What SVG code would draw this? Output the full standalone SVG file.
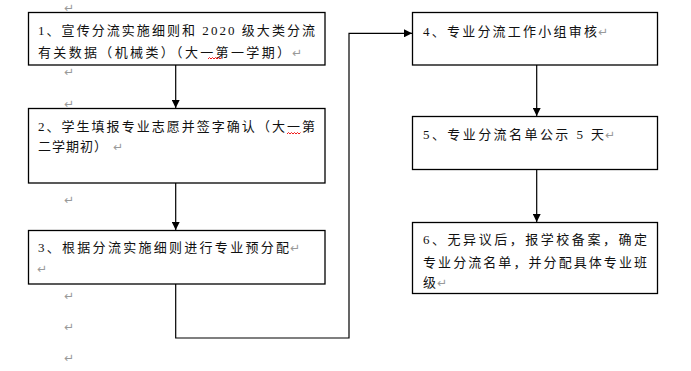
<svg xmlns="http://www.w3.org/2000/svg" width="691" height="371" viewBox="0 0 691 371">
<style>
.box{fill:#fff;stroke:#000;stroke-width:1.3}
.t{font-family:"Liberation Serif","Noto Sans CJK SC",serif;font-size:13px;fill:#111}
.rm{font-family:"DejaVu Sans",sans-serif;font-size:12px;fill:#999}
.con{fill:none;stroke:#000;stroke-width:1.2}
.wavy{fill:none;stroke:#e00;stroke-width:0.9}
</style>
<defs>
<marker id="ah" markerWidth="8" markerHeight="8" refX="8" refY="4" orient="auto" markerUnits="userSpaceOnUse">
<path d="M0,0 L8,4 L0,8 Z" fill="#000"/>
</marker>
</defs>
<rect width="691" height="371" fill="#fff"/>
<g id="marks">
<text class="rm" x="64" y="12">↵</text>
<text class="rm" x="64" y="76">↵</text>
<text class="rm" x="64" y="108">↵</text>
<text class="rm" x="64" y="204">↵</text>
<text class="rm" x="64" y="300">↵</text>
<text class="rm" x="64" y="331">↵</text>
<text class="rm" x="64" y="362">↵</text>
</g>
<g id="connectors">
<line class="con" x1="175.7" y1="65" x2="175.7" y2="108" marker-end="url(#ah)"/>
<line class="con" x1="175.7" y1="183" x2="175.7" y2="230" marker-end="url(#ah)"/>
<polyline class="con" points="175.7,284 175.7,338 349,338 349,33.3 412,33.3" marker-end="url(#ah)"/>
<line class="con" x1="536.7" y1="65" x2="536.7" y2="116" marker-end="url(#ah)"/>
<line class="con" x1="536.7" y1="169" x2="536.7" y2="222" marker-end="url(#ah)"/>
</g>
<g id="node1">
<rect class="box" x="28.5" y="12.5" width="296.5" height="52.5"/>
<text class="t" x="38" y="35" textLength="277" lengthAdjust="spacing">1、宣传分流实施细则和 2020 级大类分流</text>
<text class="t" x="38" y="57" textLength="252" lengthAdjust="spacing">有关数据（机械类）（大一第一学期）</text>
<text class="rm" x="292" y="57">↵</text>
<path class="wavy" d="M208,59 l1.5,-1.5 l1.5,1.5 l1.5,-1.5 l1.5,1.5 l1.5,-1.5 l1.5,1.5 l1.5,-1.5 l1.5,1.5 l1.5,-1.5"/>
</g>
<g id="node2">
<rect class="box" x="28.5" y="108.5" width="296.5" height="74.5"/>
<text class="t" x="38" y="131" textLength="277" lengthAdjust="spacing">2、学生填报专业志愿并签字确认（大一第</text>
<text class="t" x="38" y="151" textLength="69" lengthAdjust="spacing">二学期初）</text>
<text class="rm" x="113" y="151">↵</text>
<path class="wavy" d="M287,134 l1.5,-1.5 l1.5,1.5 l1.5,-1.5 l1.5,1.5 l1.5,-1.5 l1.5,1.5 l1.5,-1.5 l1.5,1.5 l1.5,-1.5"/>
</g>
<g id="node3">
<rect class="box" x="28.5" y="230.5" width="296.5" height="53.5"/>
<text class="t" x="38" y="252" textLength="251" lengthAdjust="spacing">3、根据分流实施细则进行专业预分配</text>
<text class="rm" x="290" y="252">↵</text>
<text class="rm" x="37" y="273">↵</text>
</g>
<g id="node4">
<rect class="box" x="412.5" y="12.5" width="245" height="52.5"/>
<text class="t" x="423" y="36" textLength="174" lengthAdjust="spacing">4、专业分流工作小组审核</text>
<text class="rm" x="598" y="36">↵</text>
</g>
<g id="node5">
<rect class="box" x="412.5" y="116.5" width="245" height="53"/>
<text class="t" x="423" y="139" textLength="181" lengthAdjust="spacing">5、专业分流名单公示 5 天</text>
<text class="rm" x="605" y="139">↵</text>
</g>
<g id="node6">
<rect class="box" x="412.5" y="222.5" width="245" height="71"/>
<text class="t" x="423" y="244" textLength="224" lengthAdjust="spacing">6、无异议后，报学校备案，确定</text>
<text class="t" x="423" y="267" textLength="224" lengthAdjust="spacing">专业分流名单，并分配具体专业班</text>
<text class="t" x="423" y="287">级</text>
<text class="rm" x="437" y="287">↵</text>
</g>
</svg>
